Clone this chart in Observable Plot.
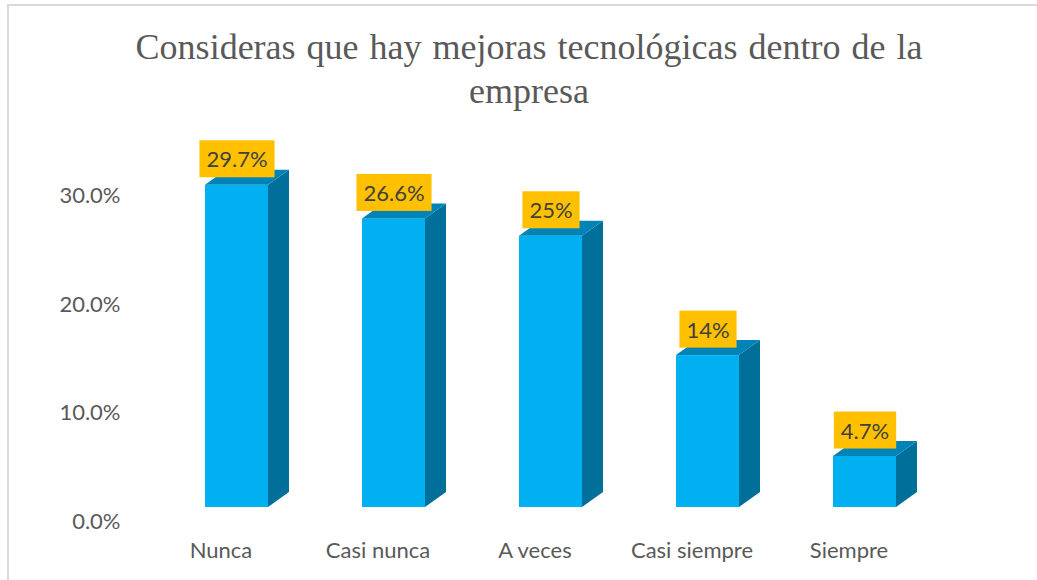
<!DOCTYPE html>
<html><head><meta charset="utf-8">
<script src="https://cdn.jsdelivr.net/npm/d3@7"></script>
<script src="https://cdn.jsdelivr.net/npm/@observablehq/plot@0.6"></script>
<style>
html,body{margin:0;padding:0;background:#fff;overflow:hidden;width:1037px;height:580px;}
#frame{position:absolute;left:7px;top:4px;width:2000px;height:2000px;border:2px solid #d9d9d9;}
#title{position:absolute;left:0;top:25px;width:1058px;text-align:center;font-family:"Liberation Serif","Times New Roman",serif;font-size:36px;line-height:44px;color:#595959;word-spacing:2px;white-space:nowrap;}
#chart{position:absolute;left:0;top:115px;}
</style></head><body>
<div id="frame"></div>
<div id="title">Consideras que hay mejoras tecnológicas dentro de la<br>empresa</div>
<div id="chart"></div>
<script>
const categories = ["Nunca","Casi nunca","A veces","Casi siempre","Siempre"];
const values = [29.7, 26.6, 25, 14, 4.7];
const valueLabels = ["29.7%","26.6%","25%","14%","4.7%"];
const yTicks = [0, 10, 20, 30];

const data = categories.map((c, i) => ({category: c, value: values[i], label: valueLabels[i]}));

const chart = Plot.plot({
  width: 1037, height: 465,
  marginTop: 66.5, marginBottom: 73, marginLeft: 157, marginRight: 93,
  style: {fontFamily: "Lato, 'Open Sans', sans-serif", fontSize: "22px", color: "#595959", background: "transparent", overflow: "visible"},
  x: {domain: categories, paddingInner: 0.597, paddingOuter: 0.3, label: null},
  y: {domain: [0, 30], label: null},
  marks: [
    Plot.axisY(yTicks, {tickSize: 0, tickPadding: 37, tickFormat: d => d.toFixed(1) + "%", dy: 14, label: null}),
    Plot.axisX({tickSize: 0, tickPadding: 35, dx: -16, label: null}),
    Plot.barY(data, {x: "category", y: "value", fill: "#00B0F0", className: "front"}),
    Plot.text(data, {x: "category", y: "value", text: "label", dy: -25, fill: "#404040", fontSize: 22, className: "vlabels"})
  ]
});
document.getElementById("chart").append(chart);

const DX = 21, DY = 15;
d3.select(chart).selectAll("g.front rect").each(function() {
  const r = d3.select(this);
  const x = +r.attr("x"), y = +r.attr("y"), w = +r.attr("width"), h = +r.attr("height");
  const g = d3.select(this.parentNode);
  g.append("polygon")
    .attr("points", [[x + w, y], [x + w + DX, y - DY], [x + w + DX, y + h - DY], [x + w, y + h]].map(p => p.join(",")).join(" "))
    .attr("fill", "#006F9A");
  g.append("polygon")
    .attr("points", [[x, y], [x + DX, y - DY], [x + w + DX, y - DY], [x + w, y]].map(p => p.join(",")).join(" "))
    .attr("fill", "#0084B8");
});
d3.select(chart).selectAll("g.vlabels text").each(function() {
  const b = this.getBBox();
  const padX = 7, padY = 5;
  const rect = document.createElementNS("http://www.w3.org/2000/svg", "rect");
  rect.setAttribute("x", b.x - padX);
  rect.setAttribute("y", b.y - padY);
  rect.setAttribute("width", b.width + 2 * padX);
  rect.setAttribute("height", b.height + 2 * padY);
  rect.setAttribute("fill", "#FFC000");
  const t = this.getAttribute("transform");
  if (t) rect.setAttribute("transform", t);
  this.parentNode.insertBefore(rect, this);
});
</script>
</body></html>
